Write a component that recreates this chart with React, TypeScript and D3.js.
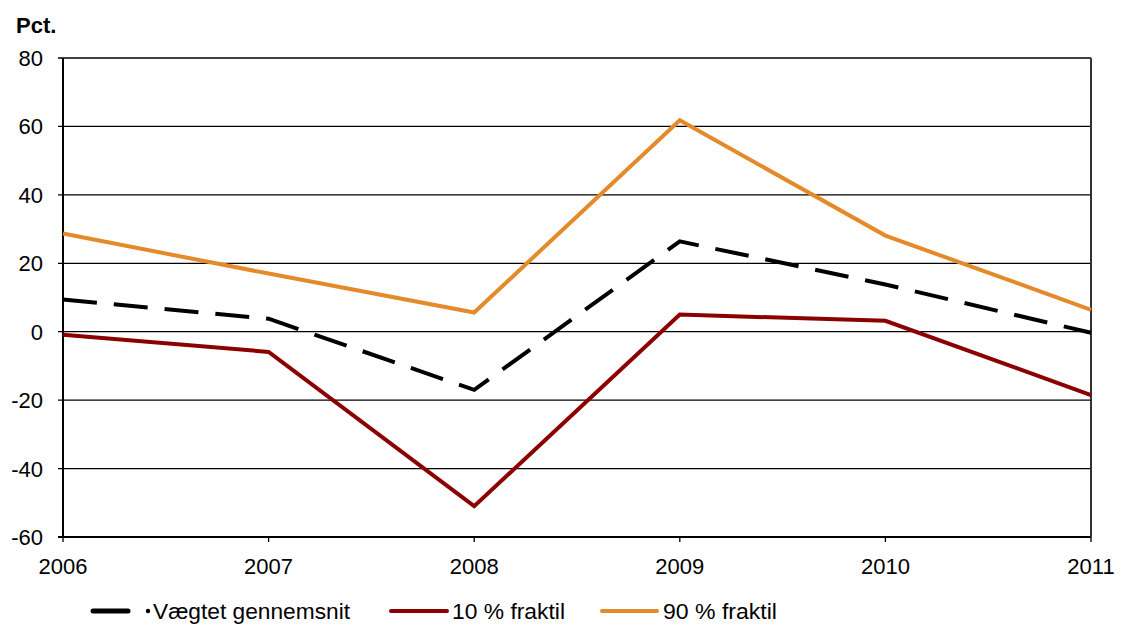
import React from "react";
import * as d3 from "d3";

const years = [2006, 2007, 2008, 2009, 2010, 2011];
const avgValues = [9.4, 3.8, -17, 26.4, 13.8, -0.3];
const p10Values = [-0.9, -5.9, -51, 5.0, 3.2, -18.5];
const p90Values = [28.7, 17.0, 5.6, 61.8, 28.1, 6.4];
const yTicks = [-60, -40, -20, 0, 20, 40, 60, 80];

const series = [
  { name: "Vægtet gennemsnit", values: avgValues, color: "#000000", dash: "34 17" },
  { name: "10 % fraktil", values: p10Values, color: "#8B0000", dash: null },
  { name: "90 % fraktil", values: p90Values, color: "#E48A2A", dash: null },
];

const W = 1121, H = 628;
const left = 63, right = 1091, top = 58, bottom = 537;
const font = "'Liberation Sans', Arial, sans-serif";

export default function App() {
  const x = d3.scaleLinear().domain([2006, 2011]).range([left, right]);
  const y = d3.scaleLinear().domain([-60, 80]).range([bottom, top]);
  const line = d3.line<number>().x((_, i) => x(years[i])).y((d) => y(d));

  return (
    <svg width={W} height={H} style={{ position: "absolute", left: 0, top: 0, background: "#fff" }} fontFamily={font}>
      <text x={16} y={33} fontSize={22} fontWeight="bold">Pct.</text>
      {yTicks.map((t) => (
        <g key={t}>
          <line x1={left - 5} x2={right} y1={y(t)} y2={y(t)} stroke="#000" strokeWidth={t === -60 ? 2 : 1.3} />
          <text x={43} y={y(t) + 8} fontSize={22} textAnchor="end">{t}</text>
        </g>
      ))}
      <line x1={left} x2={left} y1={top} y2={bottom} stroke="#000" strokeWidth={2} />
      <line x1={right} x2={right} y1={top} y2={bottom} stroke="#333" strokeWidth={2} />
      {years.map((yr) => (
        <g key={yr}>
          <line x1={x(yr)} x2={x(yr)} y1={bottom} y2={bottom + 5} stroke="#000" strokeWidth={1.3} />
          <text x={x(yr)} y={bottom + 37} fontSize={22} textAnchor="middle">{yr}</text>
        </g>
      ))}
      {series.map((s) => (
        <path key={s.name} d={line(s.values) || ""} fill="none" stroke={s.color} strokeWidth={4}
          strokeDasharray={s.dash || undefined} strokeLinejoin="miter" />
      ))}
      {/* legend */}
      <g fontSize={22}>
        <line x1={93} x2={128} y1={611} y2={611} stroke="#000" strokeWidth={5} strokeLinecap="round" />
        <circle cx={148} cy={611} r={2.2} fill="#000" />
        <text x={153} y={619} textLength={197} lengthAdjust="spacingAndGlyphs">Vægtet gennemsnit</text>
        <line x1={391} x2={447} y1={611} y2={611} stroke="#8B0000" strokeWidth={4} strokeLinecap="round" />
        <text x={452} y={619} textLength={113} lengthAdjust="spacingAndGlyphs">10 % fraktil</text>
        <line x1={602} x2={657} y1={611} y2={611} stroke="#E48A2A" strokeWidth={4} strokeLinecap="round" />
        <text x={663} y={619} textLength={114} lengthAdjust="spacingAndGlyphs">90 % fraktil</text>
      </g>
    </svg>
  );
}
